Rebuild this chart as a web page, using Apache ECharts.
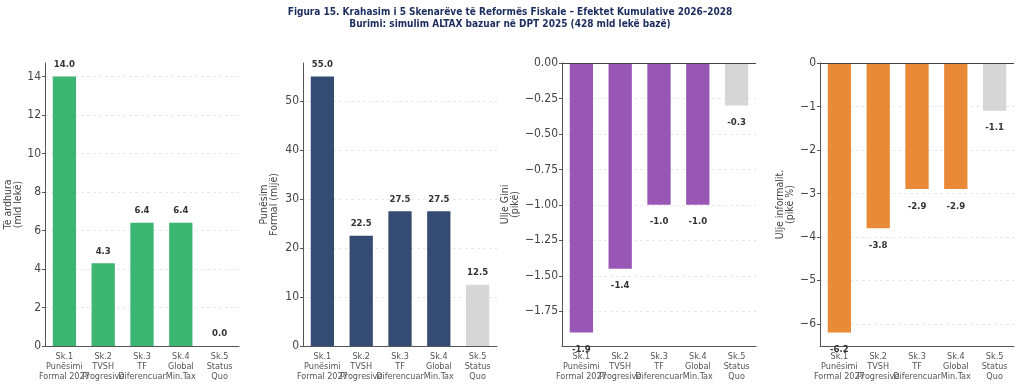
<!DOCTYPE html>
<html><head><meta charset="utf-8">
<script src="https://cdn.jsdelivr.net/npm/echarts@6/dist/echarts.min.js"></script>
<style>html,body{margin:0;padding:0;background:#fff}#c{width:1020px;height:386px}</style>
</head><body><div id="c"></div>
<script>
const categories = ['Sk.1\nPunësimi\nFormal 2027','Sk.2\nTVSH\nProgresive','Sk.3\nTF\nDiferencuar','Sk.4\nGlobal\nMin.Tax','Sk.5\nStatus\nQuo'];
const revenue = [14.0, 4.3, 6.4, 6.4, 0.0];
const jobs = [55.0, 22.5, 27.5, 27.5, 12.5];
const gini = [-1.9, -1.45, -1.0, -1.0, -0.3];
const informality = [-6.2, -3.8, -2.9, -2.9, -1.1];
const revenueTicks = [0, 2, 4, 6, 8, 10, 12, 14];
const jobsTicks = [0, 10, 20, 30, 40, 50];
const giniTicks = [0, -0.25, -0.5, -0.75, -1, -1.25, -1.5, -1.75];
const informalityTicks = [0, -1, -2, -3, -4, -5, -6];
const axisNames = ['Të ardhura\n(mld lekë)', 'Punësim\nFormal (mijë)', 'Ulje Gini\n(pikë)', 'Ulje informalit.\n(pikë %)'];
const titleLines = ['Figura 15. Krahasim i 5 Skenarëve të Reformës Fiskale – Efektet Kumulative 2026–2028', 'Burimi: simulim ALTAX bazuar në DPT 2025 (428 mld lekë bazë)'];

const FONT = 'DejaVu Sans Condensed';
const panels = [
  {data: revenue, ticks: revenueTicks, color: '#3cb672', left: 45, min: 0, max: 14.7, gap: 22, fmt: v => String(v)},
  {data: jobs, ticks: jobsTicks, color: '#344b72', left: 303, min: 0, max: 57.75, gap: 24, fmt: v => String(v)},
  {data: gini, ticks: giniTicks, color: '#9856b5', left: 562, min: -1.995, max: 0, gap: 38, fmt: v => v === 0 ? '0.00' : '\u2212' + Math.abs(v).toFixed(2)},
  {data: informality, ticks: informalityTicks, color: '#e88a36', left: 820, min: -6.51, max: 0, gap: 19, fmt: v => v === 0 ? '0' : '\u2212' + Math.abs(v)}
];
const GRAY = '#d6d6d6';
const AX = '#555';

const option = {
  animation: false,
  backgroundColor: '#fff',
  title: {
    text: titleLines.join('\n'), left: 'center', top: 1,
    textStyle: {fontFamily: FONT, fontSize: 10, fontWeight: 'bold', color: '#1b2d5e', lineHeight: 12}
  },
  grid: panels.map(p => ({left: p.left, width: 194, top: 63, height: 283})),
  xAxis: panels.map((p, i) => ({
    type: 'category', gridIndex: i, data: categories,
    axisLine: {onZero: false, lineStyle: {color: AX, width: 1}},
    axisTick: {alignWithLabel: true, length: 3, lineStyle: {color: AX}},
    axisLabel: {interval: 0, fontFamily: FONT, fontSize: 9, color: '#555', lineHeight: 10, margin: 6}
  })),
  yAxis: panels.map((p, i) => ({
    type: 'value', gridIndex: i, min: p.min, max: p.max,
    name: axisNames[i], nameLocation: 'middle', nameGap: p.gap,
    nameTextStyle: {fontFamily: FONT, fontSize: 10.5, color: '#444', lineHeight: 10},
    axisLine: {show: true, lineStyle: {color: AX, width: 1}},
    axisTick: {show: true, length: 3, lineStyle: {color: AX}, customValues: p.ticks},
    axisLabel: {fontFamily: FONT, fontSize: 12, color: '#444', margin: 4, customValues: p.ticks, formatter: p.fmt},
    splitLine: {show: true, lineStyle: {color: '#e2e2e2', type: [3, 3], width: 0.8}}
  })),
  series: panels.map((p, i) => ({
    type: 'bar', xAxisIndex: i, yAxisIndex: i, barWidth: '60%',
    data: p.data.map((v, j) => ({
      value: v,
      itemStyle: {color: j === 4 ? GRAY : p.color},
      label: {position: v < 0 ? 'bottom' : 'top', distance: v < 0 ? 12 : 7}
    })),
    label: {
      show: true,
      fontFamily: FONT, fontSize: 9.5, fontWeight: 'bold', color: '#333',
      formatter: d => d.value.toFixed(1)
    },
    markLine: p.min < 0 ? {
      silent: true, symbol: 'none', label: {show: false},
      lineStyle: {color: '#444', width: 1, type: 'solid'},
      data: [{yAxis: 0}]
    } : undefined
  }))
};
echarts.init(document.getElementById('c')).setOption(option);
</script>
</body></html>
